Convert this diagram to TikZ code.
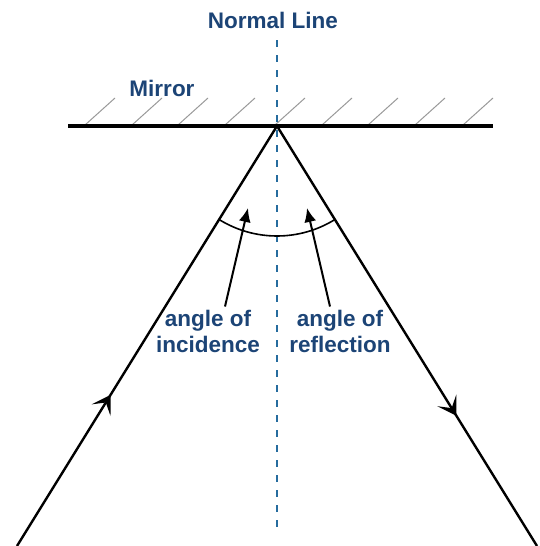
\documentclass[tikz,border=0pt]{standalone}
\usepackage{fontspec}
\setsansfont{Liberation Sans}
\usepackage{tikz}
\usetikzlibrary{arrows.meta, decorations.markings}
\definecolor{labelblue}{RGB}{28, 68, 118}
\definecolor{normalblue}{RGB}{38, 108, 158}
\tikzset{
    label/.style={text=labelblue, font=\sffamily\bfseries\fontsize{22.5}{26}\selectfont, inner sep=0pt, align=center},
    mirror/.style={draw=black, line width=3.2pt},
    hatch/.style={draw=gray!80, line width=1pt},
    normal/.style={draw=normalblue, line width=1.5pt, dash pattern=on 7pt off 8pt},
    ray/.style={draw=black, line width=2.4pt},
    pointer/.style={draw=black, line width=2pt, -{Latex[length=14pt, width=12pt]}},
    anglearc/.style={draw=black, line width=1.6pt},
    midarrow/.style={postaction={decorate}, decoration={markings,
        mark=at position #1 with {\arrow{Stealth[length=18pt, width=22pt, inset=9pt]}}}}
}
\begin{document}
\begin{tikzpicture}[x=1pt, y=1pt]
    \useasboundingbox (0,0) rectangle (540,-546);

    \coordinate (vertex) at (277,-126);
    \coordinate (rayIn) at (17,-546);
    \coordinate (rayOut) at (537,-546);
    \coordinate (mirrorL) at (68,-126);
    \coordinate (mirrorR) at (493,-126);
    \coordinate (normalTop) at (277,-40);
    \coordinate (normalBot) at (277,-530);
    \coordinate (incTip) at (248,-208);
    \coordinate (refTip) at (307,-208);

    % Mirror
    \foreach \x in {85,132,178,225,275,322,368,415,463}
        \draw [hatch] (\x,-125) -- ++(30,27) ;
    \draw [mirror] (mirrorL) -- (mirrorR);

    % Normal
    \draw [normal] (normalTop) -- (normalBot);

    % Rays
    \draw [ray, midarrow=0.36] (rayIn) -- (vertex);
    \draw [ray, midarrow=0.69] (vertex) -- (rayOut);
    \draw [anglearc] (vertex) ++(238.2:110) arc (238.2:301.8:110);

    % Labels
    \node [label, anchor=base] (normalLbl) at (273,-28) {Normal Line};
    \node [label, anchor=base] (mirrorLbl) at (162,-96) {Mirror};
    \node [label] (incLbl) at (208,-331) {angle of\\incidence};
    \node [label] (refLbl) at (340,-331) {angle of\\reflection};

    \draw [pointer] ([xshift=17pt, yshift=3pt]incLbl.north) -- (incTip);
    \draw [pointer] ([xshift=-10pt, yshift=3pt]refLbl.north) -- (refTip);

\end{tikzpicture}
\end{document}
